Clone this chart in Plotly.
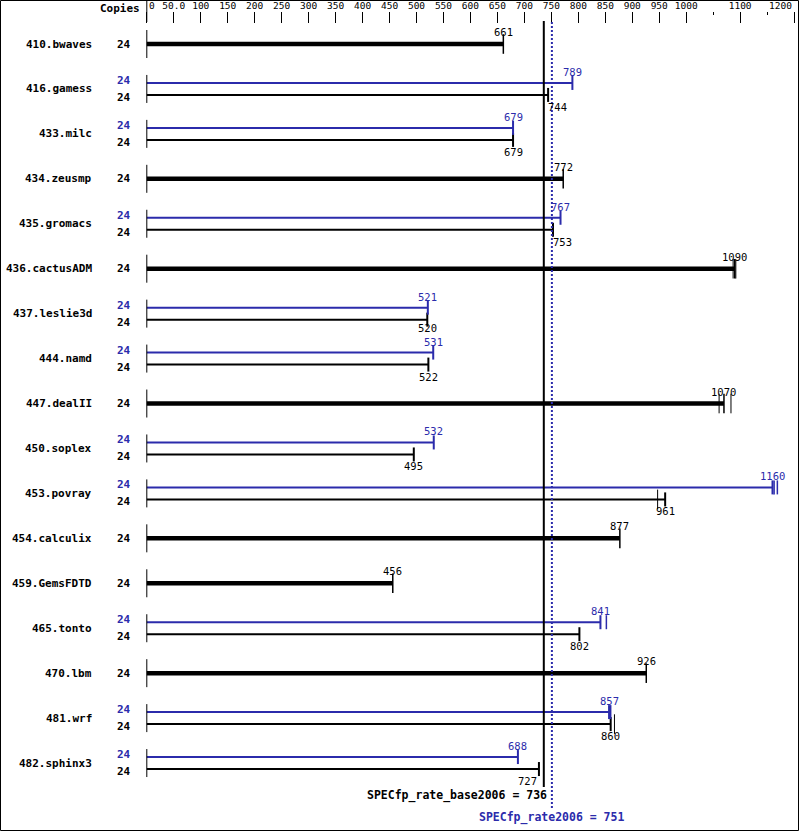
import plotly.graph_objects as go

# ---------------- data ----------------
benchmarks = ["410.bwaves", "416.gamess", "433.milc", "434.zeusmp", "435.gromacs",
              "436.cactusADM", "437.leslie3d", "444.namd", "447.dealII", "450.soplex",
              "453.povray", "454.calculix", "459.GemsFDTD", "465.tonto", "470.lbm",
              "481.wrf", "482.sphinx3"]
base_copies = [24, 24, 24, 24, 24, 24, 24, 24, 24, 24, 24, 24, 24, 24, 24, 24, 24]
peak_copies = [None, 24, 24, None, 24, None, 24, 24, None, 24, 24, None, None, 24, None, 24, 24]
base_ratio = [661, 744, 679, 772, 753, 1090, 520, 522, 1070, 495, 961, 877, 456, 802, 926, 860, 727]
peak_ratio = [None, 789, 679, None, 767, None, 521, 531, None, 532, 1160, None, None, 841, None, 857, 688]
base_other_runs = {"436.cactusADM": [1087, 1092], "447.dealII": [1061, 1083],
                   "453.povray": [947], "481.wrf": [867]}
peak_other_runs = {"453.povray": [1163, 1169], "465.tonto": [852], "481.wrf": [860]}
spec_base = 736
spec_peak = 751
tick_vals = [0, 50, 100, 150, 200, 250, 300, 350, 400, 450, 500, 550, 600, 650, 700,
             750, 800, 850, 900, 950, 1000, 1100, 1200]
tick_text = ["0", "50.0", "100", "150", "200", "250", "300", "350", "400", "450", "500",
             "550", "600", "650", "700", "750", "800", "850", "900", "950", "1000", "1100", "1200"]
minor_tick_vals = [1050, 1150]

# ---------------- geometry / style ----------------
W, H, TOP = 799, 831, 12
X0PIX, KX = 146.8, 0.5394
ROW0, STEP = 44, 44.94
OFF = 6 / STEP
BLUE = "#2b2bab"
FONT = "DejaVu Sans Mono"
TICKFONT = dict(family=FONT, size=9.5, color="black")
label_xshift = {("base", "416.gamess"): 9, ("base", "435.gromacs"): 10, ("base", "482.sphinx3"): -11}
label_yshift = {("base", "437.leslie3d"): -8}
# tick labels that sit off-centre in the reference (edge labels)
edge_tick_shift = {0: 5, 1200: -14}


def py(p):  # pixel row -> paper y
    return (H - p) / (H - TOP)


def pxx(p):  # pixel column -> paper x
    return p / W


def bold(size, color):
    return dict(family=FONT, size=size, color=color, weight="bold")


fig = go.Figure()

thick_x, thick_y, tb_x, tb_y, tp_x, tp_y = [], [], [], [], [], []
end_thick = ([], [])
end_base = ([], [])
end_peak = ([], [])
extra_b = ([], [])
extra_p = ([], [])
annotations = []
shapes = []


def ann(**kw):
    kw.setdefault("showarrow", False)
    kw.setdefault("xanchor", "center")
    kw.setdefault("yanchor", "middle")
    annotations.append(kw)


for i, name in enumerate(benchmarks):
    b = base_ratio[i]
    p = peak_ratio[i]
    ann(x=pxx(94), xref="paper", y=i, yref="y", text=name, xanchor="right", font=bold(11, "black"))
    shapes.append(dict(type="line", xref="x", yref="y", x0=0, x1=0, y0=i - 14 / STEP, y1=i + 14 / STEP,
                       line=dict(color="black", width=1)))
    if p is None:
        thick_x += [0, b, None]
        thick_y += [i, i, None]
        end_thick[0].append(b); end_thick[1].append(i)
        for r in base_other_runs.get(name, []):
            extra_b[0].append(r); extra_b[1].append(i)
        ann(x=b, y=i, text=str(b), yshift=12, font=dict(family=FONT, size=10.5, color="black"))
        ann(x=pxx(124), xref="paper", y=i, yref="y", text=str(base_copies[i]), font=bold(11, "black"))
    else:
        yb, yp = i + OFF, i - OFF
        tb_x += [0, b, None]; tb_y += [yb, yb, None]
        tp_x += [0, p, None]; tp_y += [yp, yp, None]
        end_base[0].append(b); end_base[1].append(yb)
        end_peak[0].append(p); end_peak[1].append(yp)
        for r in base_other_runs.get(name, []):
            extra_b[0].append(r); extra_b[1].append(yb)
        for r in peak_other_runs.get(name, []):
            extra_p[0].append(r); extra_p[1].append(yp)
        ann(x=p, y=yp, text=str(p), yshift=11, xshift=label_xshift.get(("peak", name), 0),
            font=dict(family=FONT, size=10.5, color=BLUE))
        ann(x=b, y=yb, text=str(b), yshift=label_yshift.get(("base", name), -12),
            xshift=label_xshift.get(("base", name), 0),
            font=dict(family=FONT, size=10.5, color="black"))
        ann(x=pxx(124), xref="paper", y=i - 8.5 / STEP, yref="y", text=str(peak_copies[i]), font=bold(11, BLUE))
        ann(x=pxx(124), xref="paper", y=i + 8.5 / STEP, yref="y", text=str(base_copies[i]), font=bold(11, "black"))

fig.add_trace(go.Scatter(x=thick_x, y=thick_y, mode="lines", line=dict(color="black", width=4.5),
                         hoverinfo="skip", showlegend=False))
fig.add_trace(go.Scatter(x=tb_x, y=tb_y, mode="lines", line=dict(color="black", width=2),
                         hoverinfo="skip", showlegend=False))
fig.add_trace(go.Scatter(x=tp_x, y=tp_y, mode="lines", line=dict(color=BLUE, width=2),
                         hoverinfo="skip", showlegend=False))


def ticks(xy, color, size, width):
    fig.add_trace(go.Scatter(x=xy[0], y=xy[1], mode="markers",
                             marker=dict(symbol="line-ns", size=size, line=dict(color=color, width=width)),
                             hoverinfo="skip", showlegend=False))


ticks(end_thick, "black", 14, 1.5)
ticks(extra_b, "black", 14, 1)
ticks(end_base, "black", 10, 2)
ticks(end_peak, BLUE, 10, 2)
ticks(extra_p, BLUE, 10, 1.5)

# axis tick labels: centred ones from the axis, edge ones as annotations
axis_text = []
for v, t in zip(tick_vals, tick_text):
    if v in edge_tick_shift:
        axis_text.append("")
        ann(x=v, xref="x", y=py(5.5), yref="paper", text=t, xshift=edge_tick_shift[v], font=TICKFONT)
    else:
        axis_text.append(t)

# header
ann(x=pxx(142), xref="paper", y=py(8), yref="paper", text="Copies", xanchor="right", font=bold(11, "black"))
shapes.append(dict(type="line", xref="x", yref="paper", x0=0, x1=0, y0=py(22), y1=py(0),
                   line=dict(color="black", width=1)))

# reference lines
shapes.append(dict(type="line", xref="x", yref="paper", x0=spec_base, x1=spec_base, y0=py(787), y1=py(21),
                   line=dict(color="black", width=2)))
shapes.append(dict(type="line", xref="x", yref="paper", x0=spec_peak, x1=spec_peak, y0=py(808), y1=py(22),
                   line=dict(color=BLUE, width=2, dash="2px,2px")))
ann(x=spec_base, xref="x", y=py(795), yref="paper", xanchor="right", xshift=5,
    text="SPECfp_rate_base2006 = %d" % spec_base, font=bold(11.5, "black"))
ann(x=spec_peak, xref="x", y=py(817), yref="paper", xanchor="center",
    text="SPECfp_rate2006 = %d" % spec_peak, font=bold(11.5, BLUE))

# outer border
shapes.append(dict(type="rect", xref="paper", yref="paper", x0=pxx(0.5), x1=pxx(798.5),
                   y0=py(830.5), y1=py(0.5), line=dict(color="black", width=1)))

fig.update_layout(
    width=W, height=H, margin=dict(l=0, r=0, t=TOP, b=0, autoexpand=False),
    paper_bgcolor="white", plot_bgcolor="white",
    xaxis=dict(range=[-X0PIX / KX, (W - X0PIX) / KX], side="top", showgrid=False, zeroline=False,
               showline=False, tickmode="array", tickvals=tick_vals, ticktext=axis_text,
               ticks="inside", ticklen=11, tickwidth=1, tickcolor="black",
               tickfont=TICKFONT, automargin=False,
               minor=dict(tickvals=minor_tick_vals, ticks="inside", ticklen=3, tickwidth=1,
                          tickcolor="black", showgrid=False)),
    yaxis=dict(range=[(H - ROW0) / STEP, (TOP - ROW0) / STEP], visible=False, showgrid=False,
               zeroline=False),
    annotations=annotations, shapes=shapes,
)

fig.write_html("out.html", config={"displayModeBar": False},
               post_script="document.body.style.margin='0';")
